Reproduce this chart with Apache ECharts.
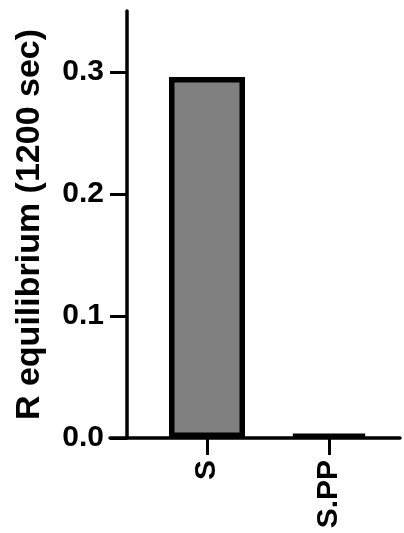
<!DOCTYPE html>
<html>
<head>
<meta charset="utf-8">
<script src="https://cdn.jsdelivr.net/npm/echarts@6/dist/echarts.min.js"></script>
<style>
  html, body { margin: 0; padding: 0; background: #fff; }
  #chart { width: 404px; height: 533px; }
</style>
</head>
<body>
<div id="chart"></div>
<script>
// data
const categories = ["S", "S.PP"];
const values = [0.296, 0.003];
const yTicks = [0, 0.1, 0.2, 0.3];
const catPos = [0, 1];

const font = "Liberation Sans, Arial, sans-serif";
const chart = echarts.init(document.getElementById("chart"));

const option = {
  animation: false,
  grid: { left: 110, right: 4, top: 11, bottom: 95, containLabel: false },
  xAxis: {
    type: "value",
    min: -0.795,
    max: 1.582,
    splitLine: { show: false },
    axisLine: { show: true, onZero: false, lineStyle: { color: "#000", width: 3.5 } },
    axisTick: {
      show: true,
      customValues: catPos,
      length: 17,
      lineStyle: { color: "#000", width: 3 },
    },
    axisLabel: {
      customValues: catPos,
      rotate: 90,
      margin: 22,
      color: "#000",
      fontFamily: font,
      fontWeight: "bold",
      fontSize: 30,
      formatter: (v) => categories[Math.round(v)],
    },
  },
  yAxis: {
    type: "value",
    min: 0,
    max: 0.35,
    offset: -17,
    name: "R equilibrium (1200 sec)",
    nameLocation: "middle",
    nameGap: 80,
    nameTextStyle: {
      color: "#000",
      fontFamily: font,
      fontWeight: "bold",
      fontSize: 34,
    },
    splitLine: { show: false },
    axisLine: { show: true, onZero: false, lineStyle: { color: "#000", width: 3.5 } },
    axisTick: {
      show: true,
      customValues: yTicks,
      length: 17,
      lineStyle: { color: "#000", width: 3 },
    },
    axisLabel: {
      customValues: yTicks,
      margin: 23,
      color: "#000",
      fontFamily: font,
      fontWeight: "bold",
      fontSize: 30,
      formatter: (v) => v.toFixed(1),
    },
  },
  series: [
    {
      type: "bar",
      barWidth: 76,
      data: catPos.map((p, i) => [p, values[i]]),
      itemStyle: {
        color: "#808080",
        borderColor: "#000",
        borderWidth: 5.5,
      },
    },
  ],
};

chart.setOption(option);
</script>
</body>
</html>
